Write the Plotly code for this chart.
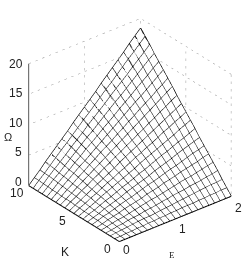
import math
import plotly.graph_objects as go

E = [0,.1,.2,.3,.4,.5,.6,.7,.8,.9,1,1.1,1.2,1.3,1.4,1.5,1.6,1.7,1.8,1.9,2]
K = [0,.5,1,1.5,2,2.5,3,3.5,4,4.5,5,5.5,6,6.5,7,7.5,8,8.5,9,9.5,10]
Omega = [
[0]*21,
[0,0,.1,.1,.2,.2,.3,.3,.4,.4,.5,.5,.6,.6,.6,.7,.7,.8,.8,.9,.9],
[0,.1,.2,.3,.4,.5,.6,.6,.7,.8,.9,1,1.1,1.2,1.3,1.4,1.5,1.6,1.7,1.7,1.8],
[0,.1,.3,.4,.6,.7,.8,1,1.1,1.2,1.4,1.5,1.7,1.8,1.9,2.1,2.2,2.3,2.5,2.6,2.8],
[0,.2,.4,.6,.7,.9,1.1,1.3,1.5,1.7,1.8,2,2.2,2.4,2.6,2.8,2.9,3.1,3.3,3.5,3.7],
[0,.2,.5,.7,.9,1.2,1.4,1.6,1.8,2.1,2.3,2.5,2.8,3,3.2,3.5,3.7,3.9,4.1,4.4,4.6],
[0,.3,.6,.8,1.1,1.4,1.7,1.9,2.2,2.5,2.8,3,3.3,3.6,3.9,4.1,4.4,4.7,5,5.2,5.5],
[0,.3,.6,1,1.3,1.6,1.9,2.3,2.6,2.9,3.2,3.5,3.9,4.2,4.5,4.8,5.2,5.5,5.8,6.1,6.4],
[0,.4,.7,1.1,1.5,1.8,2.2,2.6,2.9,3.3,3.7,4,4.4,4.8,5.2,5.5,5.9,6.3,6.6,7,7.4],
[0,.4,.8,1.2,1.7,2.1,2.5,2.9,3.3,3.7,4.1,4.6,5,5.4,5.8,6.2,6.6,7,7.5,7.9,8.3],
[0,.5,.9,1.4,1.8,2.3,2.8,3.2,3.7,4.1,4.6,5.1,5.5,6,6.4,6.9,7.4,7.8,8.3,8.7,9.2],
[0,.5,1,1.5,2,2.5,3,3.5,4,4.6,5.1,5.6,6.1,6.6,7.1,7.6,8.1,8.6,9.1,9.6,10.1],
[0,.6,1.1,1.7,2.2,2.8,3.3,3.9,4.4,5,5.5,6.1,6.6,7.2,7.7,8.3,8.8,9.4,9.9,10.5,11],
[0,.6,1.2,1.8,2.4,3,3.6,4.2,4.8,5.4,6,6.6,7.2,7.8,8.4,9,9.6,10.2,10.8,11.4,12],
[0,.6,1.3,1.9,2.6,3.2,3.9,4.5,5.2,5.8,6.4,7.1,7.7,8.4,9,9.7,10.3,10.9,11.6,12.2,12.9],
[0,.7,1.4,2.1,2.8,3.5,4.1,4.8,5.5,6.2,6.9,7.6,8.3,9,9.7,10.4,11,11.7,12.4,13.1,13.8],
[0,.7,1.5,2.2,2.9,3.7,4.4,5.2,5.9,6.6,7.4,8.1,8.8,9.6,10.3,11,11.8,12.5,13.2,14,14.7],
[0,.8,1.6,2.3,3.1,3.9,4.7,5.5,6.3,7,7.8,8.6,9.4,10.2,10.9,11.7,12.5,13.3,14.1,14.9,15.6],
[0,.8,1.7,2.5,3.3,4.1,5,5.8,6.6,7.5,8.3,9.1,9.9,10.8,11.6,12.4,13.2,14.1,14.9,15.7,16.6],
[0,.9,1.7,2.6,3.5,4.4,5.2,6.1,7,7.9,8.7,9.6,10.5,11.4,12.2,13.1,14,14.9,15.7,16.6,17.5],
[0,.9,1.8,2.8,3.7,4.6,5.5,6.4,7.4,8.3,9.2,10.1,11,12,12.9,13.8,14.7,15.6,16.6,17.5,18.4],
]
E_ticks = [0, 1, 2]
K_ticks = [0, 5, 10]
Z_ticks = [0, 5, 10, 15, 20]

az, el = math.radians(39), math.radians(30)
R = 1.0

fig = go.Figure()
fig.add_trace(go.Surface(x=E, y=K, z=Omega, showscale=False, hoverinfo="skip",
    colorscale=[[0, "white"], [1, "white"]],
    lighting=dict(ambient=1, diffuse=0, specular=0, fresnel=0)))

mx, my, mz = [], [], []
for i, k in enumerate(K):
    for j, e in enumerate(E):
        mx.append(e); my.append(k); mz.append(Omega[i][j])
    mx.append(None); my.append(None); mz.append(None)
for j, e in enumerate(E):
    for i, k in enumerate(K):
        mx.append(e); my.append(k); mz.append(Omega[i][j])
    mx.append(None); my.append(None); mz.append(None)
fig.add_trace(go.Scatter3d(x=mx, y=my, z=mz, mode="lines", hoverinfo="skip",
    line=dict(color="#000000", width=2), showlegend=False))

Emin, Emax, Kmin, Kmax = E_ticks[0], E_ticks[-1], K_ticks[0], K_ticks[-1]
gx, gy, gz = [], [], []
for z in Z_ticks[1:]:
    gx += [Emin, Emax, Emax, None]; gy += [Kmax, Kmax, Kmin, None]; gz += [z, z, z, None]
for e in E_ticks[1:]:
    gx += [e, e, None]; gy += [Kmax, Kmax, None]; gz += [0, 20, None]
for k in K_ticks[:-1]:
    gx += [Emax, Emax, None]; gy += [k, k, None]; gz += [0, 20, None]
fig.add_trace(go.Scatter3d(x=gx, y=gy, z=gz, mode="lines", hoverinfo="skip",
    line=dict(color="#999999", width=1, dash="dot"), showlegend=False))

fig.add_trace(go.Scatter3d(x=[Emin, Emin], y=[Kmax, Kmax], z=[0, 20], mode="lines", hoverinfo="skip",
    line=dict(color="#222222", width=1.5), showlegend=False))

font = dict(family="Liberation Sans", size=12, color="#222222")
ann = []
for z in Z_ticks:
    ann.append(dict(x=Emin, y=Kmax, z=z, text=str(z), showarrow=False, xanchor="center",
                    yanchor="middle", xshift=-12.5 if z >= 10 else -10, yshift=(20 - z) * 0.2, font=font))
for k in K_ticks:
    ann.append(dict(x=Emin, y=k, z=0, text=str(k), showarrow=False, xanchor="center",
                    yanchor="middle", xshift=-12, yshift=-7, font=font))
for e in E_ticks:
    ann.append(dict(x=e, y=Kmin, z=0, text=str(e), showarrow=False, xanchor="center",
                    yanchor="middle", xshift=7.5, yshift=-8 - 2 * e, font=font))

fig.update_layout(width=249, height=263, margin=dict(l=11, r=0, t=7, b=10),
    paper_bgcolor="white",
    scene=dict(xaxis=dict(range=[0, 2], visible=False),
               yaxis=dict(range=[0, 10], visible=False),
               zaxis=dict(range=[0, 20], visible=False),
               aspectmode="manual", aspectratio=dict(x=1.17, y=1.17, z=1.145), annotations=ann,
               camera=dict(projection=dict(type="orthographic"),
                           eye=dict(x=-R*math.sin(az)*math.cos(el), y=-R*math.cos(az)*math.cos(el), z=R*math.sin(el)))),
    annotations=[
        dict(xref="paper", yref="paper", x=-0.0126, y=0.472, text="Ω", showarrow=False,
             xanchor="center", yanchor="middle",
             font=dict(family="Liberation Sans", size=11, color="#222222")),
        dict(xref="paper", yref="paper", x=0.227, y=0.004, text="K", showarrow=False,
             xanchor="center", yanchor="middle", font=font),
        dict(xref="paper", yref="paper", x=0.676, y=-0.008, text="E", showarrow=False,
             xanchor="center", yanchor="middle",
             font=dict(family="Liberation Serif", size=9, color="#222222")),
    ])
fig.write_html("out.html", config={"displayModeBar": False}, post_script="document.body.style.margin='0';")
